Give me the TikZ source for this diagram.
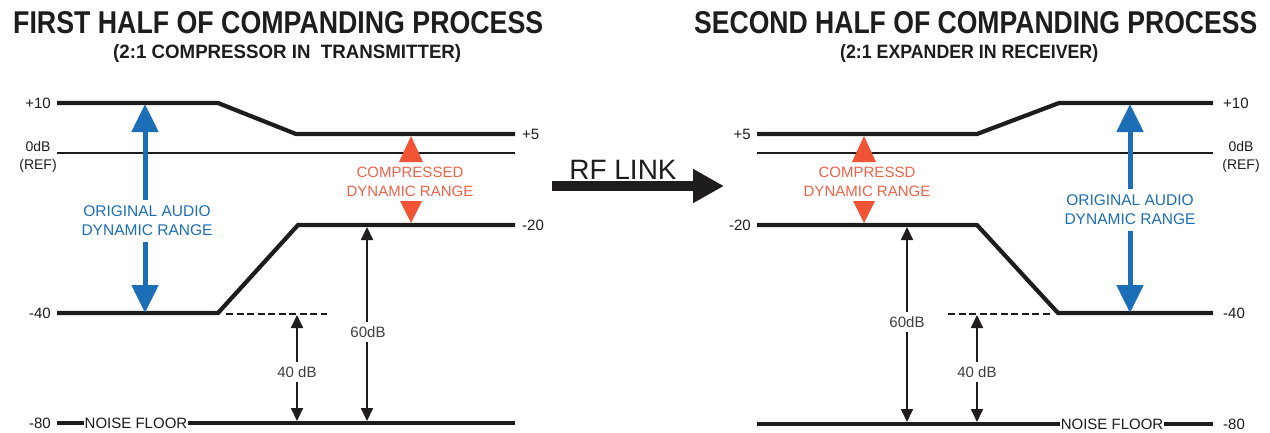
\documentclass[tikz,border=0pt]{standalone}
\usepackage{fontspec}
\setmainfont{Liberation Sans}
\usetikzlibrary{arrows.meta}
\definecolor{cblue}{RGB}{28,110,182}
\definecolor{corange}{RGB}{240,84,52}
\definecolor{cotext}{RGB}{238,98,72}
\definecolor{cink}{RGB}{30,28,28}
\begin{document}
\begin{tikzpicture}[x=1pt,y=-1pt,
  level/.style={line width=4.2pt, cink, line join=miter},
  refline/.style={line width=1.8pt, cink},
  dashline/.style={line width=1.8pt, cink, dash pattern=on 7pt off 3.5pt},
  lbl/.style={font=\fontsize{15}{17}\selectfont, text=cink, inner sep=1pt},
  reflbl/.style={font=\fontsize{14}{16}\selectfont, text=cink, inner sep=0pt},
  dimarrow/.style={line width=1.8pt, cink, {Triangle[length=13pt,width=12pt]}-{Triangle[length=13pt,width=12pt]}},
  dimlbl/.style={font=\fontsize{15}{17}\selectfont, text=cink!85, fill=white, inner xsep=1pt, inner ysep=4pt},
  bigarrow/.style={line width=5pt, cblue, {Triangle[length=28pt,width=26pt]}-{Triangle[length=28pt,width=26pt]}},
  bluetext/.style={font=\fontsize{15.5}{19}\selectfont, text=cblue, fill=white, align=center, inner xsep=1pt, inner ysep=6pt},
  orangetext/.style={font=\fontsize{15}{19}\selectfont, text=cotext, align=center, inner sep=0pt},
  tri/.style={fill=corange},
  noise/.style={font=\fontsize{15}{17}\selectfont, text=cink, fill=white, inner xsep=1pt, inner ysep=3pt},
  rfarrow/.style={line width=10pt, cink, -{Triangle[length=31pt,width=32pt]}},
  titlebox/.style={inner sep=0pt, text=cink}
]
\useasboundingbox (0,0) rectangle (1270,432);

% ---------- titles ----------
\node[titlebox, anchor=base west] (t1) at (13,33) {\resizebox{530pt}{22pt}{\bfseries FIRST HALF OF COMPANDING PROCESS}};
\node[titlebox, anchor=base west] (s1) at (113,58) {\resizebox{348pt}{14pt}{\bfseries (2:1 COMPRESSOR IN\ \ TRANSMITTER)}};
\node[titlebox, anchor=base west] (t2) at (694,33) {\resizebox{563pt}{22pt}{\bfseries SECOND HALF OF COMPANDING PROCESS}};
\node[titlebox, anchor=base west] (s2) at (840,58) {\resizebox{258pt}{14pt}{\bfseries (2:1 EXPANDER IN RECEIVER)}};

% ---------- left panel ----------
\coordinate (La1) at (57,103);
\coordinate (La2) at (218,103);
\coordinate (La3) at (296,134);
\coordinate (La4) at (515,134);
\coordinate (Lr1) at (57,153);
\coordinate (Lr2) at (515,153);
\coordinate (Lb1) at (515,225);
\coordinate (Lb2) at (298,225);
\coordinate (Lb3) at (218,313);
\coordinate (Lb4) at (57,313);
\coordinate (Ld1) at (226,314);
\coordinate (Ld2) at (327,314);
\coordinate (Ln1) at (57,423);
\coordinate (Ln2) at (515,423);

\draw[level] (La1) -- (La2) -- (La3) -- (La4);
\draw[refline] (Lr1) -- (Lr2);
\draw[level] (Lb1) -- (Lb2) -- (Lb3) -- (Lb4);
\draw[dashline] (Ld1) -- (Ld2);
\draw[level] (Ln1) -- (Ln2);

\node[lbl, anchor=east] (Lp10) at (52,103) {+10};
\node[lbl, anchor=west] (Lp5) at (521,134) {+5};
\node[reflbl] (L0db) at (38,146) {0dB};
\node[reflbl] (Lref) at (38,166) {(REF)};
\node[lbl, anchor=west] (Lm20) at (521,225) {-20};
\node[lbl, anchor=east] (Lm40) at (52,313) {-40};
\node[lbl, anchor=east] (Lm80) at (52,423) {-80};
\node[noise] (Lnoise) at (136,423) {NOISE FLOOR};

% blue arrow
\coordinate (Lbu1) at (145,104);
\coordinate (Lbu2) at (145,313);
\draw[bigarrow] (Lbu1) -- (Lbu2);
\node[bluetext] (Lbt) at (147,221) {ORIGINAL AUDIO\\DYNAMIC RANGE};

% orange compressed range
\fill[tri] (411,136) -- (423,162) -- (399,162) -- cycle;
\fill[tri] (411,223) -- (422,201) -- (400,201) -- cycle;
\node[orangetext] (Lot) at (410,182) {COMPRESSED\\DYNAMIC RANGE};

% dimension arrows
\coordinate (L40a) at (297,315);
\coordinate (L40b) at (297,421);
\draw[dimarrow] (L40a) -- (L40b);
\node[dimlbl] (L40l) at (297,372) {40 dB};
\coordinate (L60a) at (367,227);
\coordinate (L60b) at (367,421);
\draw[dimarrow] (L60a) -- (L60b);
\node[dimlbl] (L60l) at (368,332) {60dB};

% ---------- RF link ----------
\coordinate (rfa) at (552,186);
\coordinate (rfb) at (724,186);
\draw[rfarrow] (rfa) -- (rfb);
\node[font=\fontsize{28}{30}\selectfont, text=cink, inner sep=0pt, anchor=base] (rft) at (623,179) {RF LINK};

% ---------- right panel ----------
\coordinate (Ra1) at (757,134);
\coordinate (Ra2) at (977,134);
\coordinate (Ra3) at (1059,103);
\coordinate (Ra4) at (1213,103);
\coordinate (Rr1) at (757,153);
\coordinate (Rr2) at (1213,153);
\coordinate (Rb1) at (757,225);
\coordinate (Rb2) at (977,225);
\coordinate (Rb3) at (1058,313);
\coordinate (Rb4) at (1213,313);
\coordinate (Rd1) at (948,314);
\coordinate (Rd2) at (1052,314);
\coordinate (Rn1) at (757,424);
\coordinate (Rn2) at (1213,424);

\draw[level] (Ra1) -- (Ra2) -- (Ra3) -- (Ra4);
\draw[refline] (Rr1) -- (Rr2);
\draw[level] (Rb1) -- (Rb2) -- (Rb3) -- (Rb4);
\draw[dashline] (Rd1) -- (Rd2);
\draw[level] (Rn1) -- (Rn2);

\node[lbl, anchor=east] (Rp5) at (752,134) {+5};
\node[lbl, anchor=west] (Rp10) at (1222,103) {+10};
\node[reflbl] (R0db) at (1241,146) {0dB};
\node[reflbl] (Rref) at (1241,166) {(REF)};
\node[lbl, anchor=east] (Rm20) at (752,225) {-20};
\node[lbl, anchor=west] (Rm40) at (1222,313) {-40};
\node[lbl, anchor=west] (Rm80) at (1222,424) {-80};
\node[noise] (Rnoise) at (1112,424) {NOISE FLOOR};

% orange
\fill[tri] (864,136) -- (876,162) -- (852,162) -- cycle;
\fill[tri] (864,223) -- (875,201) -- (853,201) -- cycle;
\node[orangetext] (Rot) at (867,182) {COMPRESSD\\DYNAMIC RANGE};

% blue arrow
\coordinate (Rbu1) at (1130,104);
\coordinate (Rbu2) at (1130,313);
\draw[bigarrow] (Rbu1) -- (Rbu2);
\node[bluetext] (Rbt) at (1130,210) {ORIGINAL AUDIO\\DYNAMIC RANGE};

% dimension arrows
\coordinate (R60a) at (907,227);
\coordinate (R60b) at (907,422);
\draw[dimarrow] (R60a) -- (R60b);
\node[dimlbl] (R60l) at (907,322) {60dB};
\coordinate (R40a) at (977,315);
\coordinate (R40b) at (977,422);
\draw[dimarrow] (R40a) -- (R40b);
\node[dimlbl] (R40l) at (977,372) {40 dB};
\end{tikzpicture}
\end{document}
